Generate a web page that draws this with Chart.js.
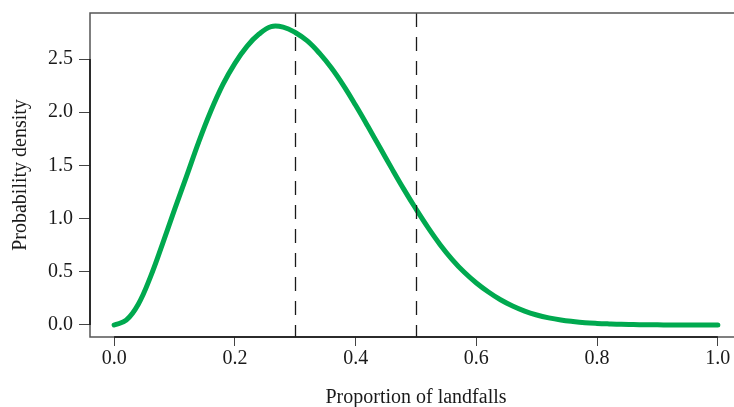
<!DOCTYPE html>
<html>
<head>
<meta charset="utf-8">
<script src="https://cdn.jsdelivr.net/npm/chart.js@4"></script>
<style>
  body { margin: 0; background: #fff; overflow: hidden; }
</style>
</head>
<body>
<canvas id="densityChart" width="742" height="407"></canvas>
<script>
// values
const proportions = [0.00, 0.02, 0.04, 0.06, 0.08, 0.10, 0.12, 0.14, 0.16, 0.18,
  0.20, 0.22, 0.24, 0.26, 0.28, 0.30, 0.32, 0.34, 0.36, 0.38,
  0.40, 0.42, 0.44, 0.46, 0.48, 0.50, 0.52, 0.54, 0.56, 0.58,
  0.60, 0.62, 0.64, 0.66, 0.68, 0.70, 0.72, 0.74, 0.76, 0.78,
  0.80, 0.82, 0.84, 0.86, 0.88, 0.90, 0.92, 0.94, 0.96, 0.98, 1.00];
const density = [0.000, 0.045, 0.195, 0.450, 0.760, 1.085, 1.400, 1.720, 2.010, 2.260,
  2.460, 2.620, 2.735, 2.805, 2.800, 2.750, 2.670, 2.555, 2.415, 2.250,
  2.065, 1.870, 1.670, 1.470, 1.275, 1.090, 0.915, 0.755, 0.615, 0.495,
  0.395, 0.310, 0.237, 0.178, 0.130, 0.094, 0.067, 0.047, 0.033, 0.022,
  0.015, 0.010, 0.006, 0.004, 0.002, 0.001, 0.000, 0.000, 0.000, 0.000, 0.000];
const xTicks = [0, 0.2, 0.4, 0.6, 0.8, 1.0];
const yTicks = [0, 0.5, 1.0, 1.5, 2.0, 2.5];
const refLines = [0.3, 0.5];

const serif = { family: '"Liberation Serif", "DejaVu Serif", serif', size: 20 };

// R-style box, axis lines and the dashed markers
const framePlugin = {
  id: 'frame',
  afterDatasetsDraw(chart) {
    const ctx = chart.ctx;
    const a = chart.chartArea;
    const x = chart.scales.x;
    const y = chart.scales.y;
    ctx.save();

    ctx.strokeStyle = '#1a1a1a';
    ctx.lineWidth = 1.3;
    ctx.setLineDash([14, 10]);
    refLines.forEach(v => {
      const px = Math.round(x.getPixelForValue(v)) + 0.5;
      ctx.beginPath();
      ctx.moveTo(px, a.top);
      ctx.lineTo(px, a.bottom);
      ctx.stroke();
    });
    ctx.setLineDash([]);

    ctx.lineWidth = 1.5;
    ctx.strokeStyle = '#555';
    ctx.strokeRect(a.left, a.top, a.right - a.left, a.bottom - a.top);

    ctx.strokeStyle = '#111';
    ctx.beginPath();
    ctx.moveTo(x.getPixelForValue(xTicks[0]), a.bottom);
    ctx.lineTo(x.getPixelForValue(xTicks[xTicks.length - 1]), a.bottom);
    ctx.moveTo(a.left, y.getPixelForValue(yTicks[0]));
    ctx.lineTo(a.left, y.getPixelForValue(yTicks[yTicks.length - 1]));
    ctx.stroke();
    ctx.restore();
  }
};

const ctx = document.getElementById('densityChart');

new Chart(ctx, {
  type: 'line',
  data: {
    datasets: [{
      label: 'Density',
      data: proportions.map((p, i) => ({ x: p, y: density[i] })),
      borderColor: '#00a94f',
      borderWidth: 5,
      borderCapStyle: 'round',
      pointRadius: 0,
      tension: 0.4,
      fill: false
    }]
  },
  options: {
    responsive: false,
    animation: false,
    layout: { padding: { top: 13, right: 0, left: 0, bottom: 0 } },
    plugins: {
      legend: { display: false },
      tooltip: { enabled: false }
    },
    scales: {
      x: {
        type: 'linear',
        min: -0.04,
        max: 1.04,
        afterBuildTicks: s => { s.ticks = xTicks.map(v => ({ value: v })); },
        afterFit: s => { s.height = 70; s.paddingLeft = 0; s.paddingRight = 0; },
        ticks: {
          callback: v => v.toFixed(1),
          font: serif,
          color: '#1a1a1a',
          padding: 1,
          maxRotation: 0
        },
        grid: { drawOnChartArea: false, drawTicks: true, tickLength: 9, color: '#444', lineWidth: 1 },
        border: { display: false },
        title: {
          display: true,
          text: 'Proportion of landfalls',
          font: { family: serif.family, size: 20, lineHeight: 0.9 },
          color: '#1a1a1a',
          padding: { top: 0, bottom: 0 }
        }
      },
      y: {
        min: -0.113,
        max: 2.933,
        afterBuildTicks: s => { s.ticks = yTicks.map(v => ({ value: v })); },
        afterFit: s => { s.width = 90; s.paddingTop = 0; s.paddingBottom = 0; },
        ticks: {
          callback: v => v.toFixed(1),
          font: serif,
          color: '#1a1a1a',
          padding: 6
        },
        grid: { drawOnChartArea: false, drawTicks: true, tickLength: 11, color: '#444', lineWidth: 1 },
        border: { display: false },
        title: {
          display: true,
          text: 'Probability density',
          font: serif,
          color: '#1a1a1a',
          padding: { top: 9, bottom: 0 }
        }
      }
    }
  },
  plugins: [framePlugin]
});
</script>
</body>
</html>
